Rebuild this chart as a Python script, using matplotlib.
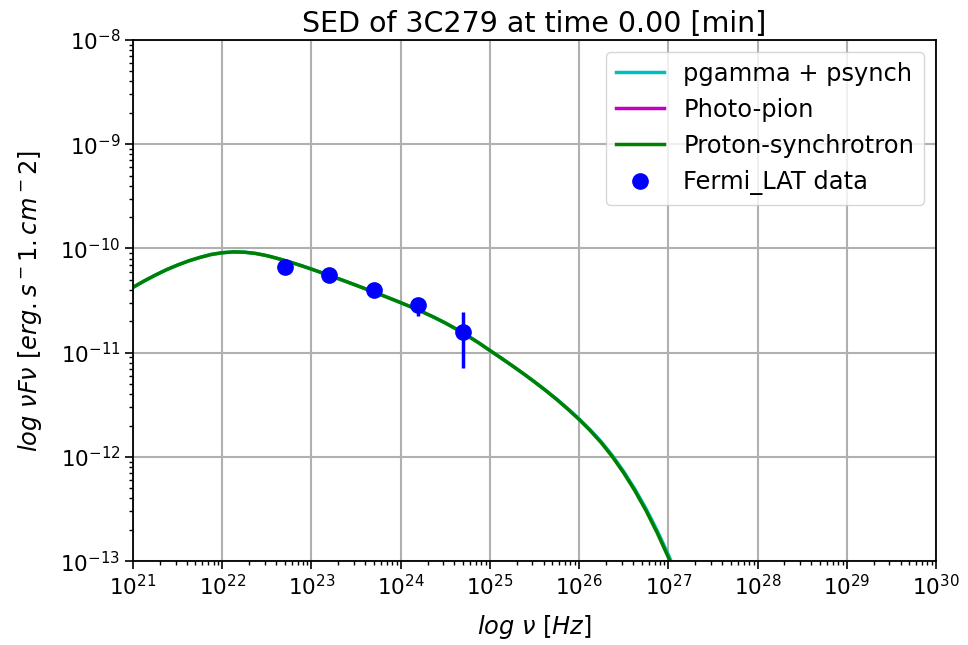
import numpy as np
import matplotlib
matplotlib.use('Agg')
import matplotlib.pyplot as plt

# model curves, log10 values (0.125 decade steps)
log_nu = [21.0, 21.125, 21.25, 21.375, 21.5, 21.625, 21.75, 21.875, 22.0, 22.125,
          22.25, 22.375, 22.5, 22.625, 22.75, 22.875, 23.0, 23.125, 23.25, 23.375,
          23.5, 23.625, 23.75, 23.875, 24.0, 24.125, 24.25, 24.375, 24.5, 24.625,
          24.75, 24.875, 25.0, 25.125, 25.25, 25.375, 25.5, 25.625, 25.75, 25.875,
          26.0, 26.125, 26.25, 26.375, 26.5, 26.625, 26.75, 26.875, 27.0, 27.125, 27.25]
log_psynch = [-10.373, -10.312, -10.256, -10.204, -10.159, -10.119, -10.086, -10.058, -10.041, -10.033,
              -10.036, -10.048, -10.069, -10.097, -10.128, -10.162, -10.198, -10.236, -10.274, -10.313,
              -10.353, -10.394, -10.435, -10.477, -10.520, -10.564, -10.611, -10.661, -10.715, -10.774,
              -10.838, -10.906, -10.979, -11.051, -11.125, -11.201, -11.280, -11.363, -11.450, -11.543,
              -11.641, -11.748, -11.866, -12.001, -12.154, -12.325, -12.516, -12.729, -12.964, -13.222, -13.506]
log_total = [-10.373, -10.312, -10.256, -10.204, -10.159, -10.119, -10.086, -10.058, -10.041, -10.033,
             -10.036, -10.048, -10.069, -10.097, -10.128, -10.162, -10.198, -10.236, -10.274, -10.313,
             -10.353, -10.394, -10.435, -10.477, -10.520, -10.564, -10.611, -10.661, -10.715, -10.774,
             -10.838, -10.906, -10.979, -11.051, -11.125, -11.201, -11.280, -11.361, -11.447, -11.539,
             -11.636, -11.741, -11.857, -11.990, -12.141, -12.310, -12.498, -12.708, -12.940, -13.195, -13.476]
log_pion = [-17.6, -17.5, -17.4, -17.3, -17.2, -17.1, -17.0, -16.9, -16.8, -16.7,
            -16.6, -16.5, -16.4, -16.3, -16.2, -16.1, -16.0, -15.9, -15.8, -15.72,
            -15.64, -15.56, -15.48, -15.41, -15.34, -15.28, -15.22, -15.16, -15.11, -15.06,
            -15.02, -14.98, -14.95, -14.92, -14.9, -14.88, -14.86, -14.85, -14.84, -14.84,
            -14.84, -14.85, -14.86, -14.88, -14.9, -14.93, -14.97, -15.02, -15.08, -15.15, -15.23]

# Fermi-LAT points
fermi_nu = [5.06e22, 1.57e23, 5.0e23, 1.57e24, 5.0e24]
fermi_flux = [6.64e-11, 5.56e-11, 3.97e-11, 2.86e-11, 1.58e-11]
fermi_err_lo = [2.0e-12, 2.0e-12, 2.0e-12, 6.2e-12, 8.7e-12]
fermi_err_hi = [2.0e-12, 2.0e-12, 2.0e-12, 3.0e-12, 8.7e-12]

nu = 10 ** np.array(log_nu)

fig = plt.figure(figsize=(9.68, 6.45), dpi=100)
ax = fig.add_axes([0.1374, 0.130, 0.8296, 0.808])

ax.plot(nu, 10 ** np.array(log_total), color='c', lw=2.5, label='pgamma + psynch')
ax.plot(nu, 10 ** np.array(log_pion), color='m', lw=2.5, label='Photo-pion')
ax.plot(nu, 10 ** np.array(log_psynch), color='g', lw=2.5, label='Proton-synchrotron')
ax.errorbar(fermi_nu, fermi_flux, yerr=[fermi_err_lo, fermi_err_hi], fmt='none', ecolor='b',
            elinewidth=2.5)
ax.plot(fermi_nu, fermi_flux, 'o', color='b', ms=11, label='Fermi_LAT data')

ax.set_xscale('log')
ax.set_yscale('log')
ax.set_xlim(1e21, 1e30)
ax.set_ylim(1e-13, 1e-8)
ax.grid(True, which='major', color='#b0b0b0', lw=1.5)
ax.tick_params(labelsize=15.5)
ax.tick_params(which='major', length=5.5, width=1.2)
ax.tick_params(which='minor', length=3, width=1)
for s in ax.spines.values():
    s.set_linewidth(1.3)

ax.set_title('SED of 3C279 at time 0.00 [min]', fontsize=20.5)
ax.set_xlabel(r'$log\ \nu\ [Hz]$', fontsize=17.4, labelpad=10)
ax.set_ylabel(r'$log\ \nu F\nu\ [erg.s^-1.cm^-2]$', fontsize=17.4, labelpad=12)
ax.legend(loc='upper right', fontsize=17.4, numpoints=1)

plt.savefig('out.png', dpi=100)
